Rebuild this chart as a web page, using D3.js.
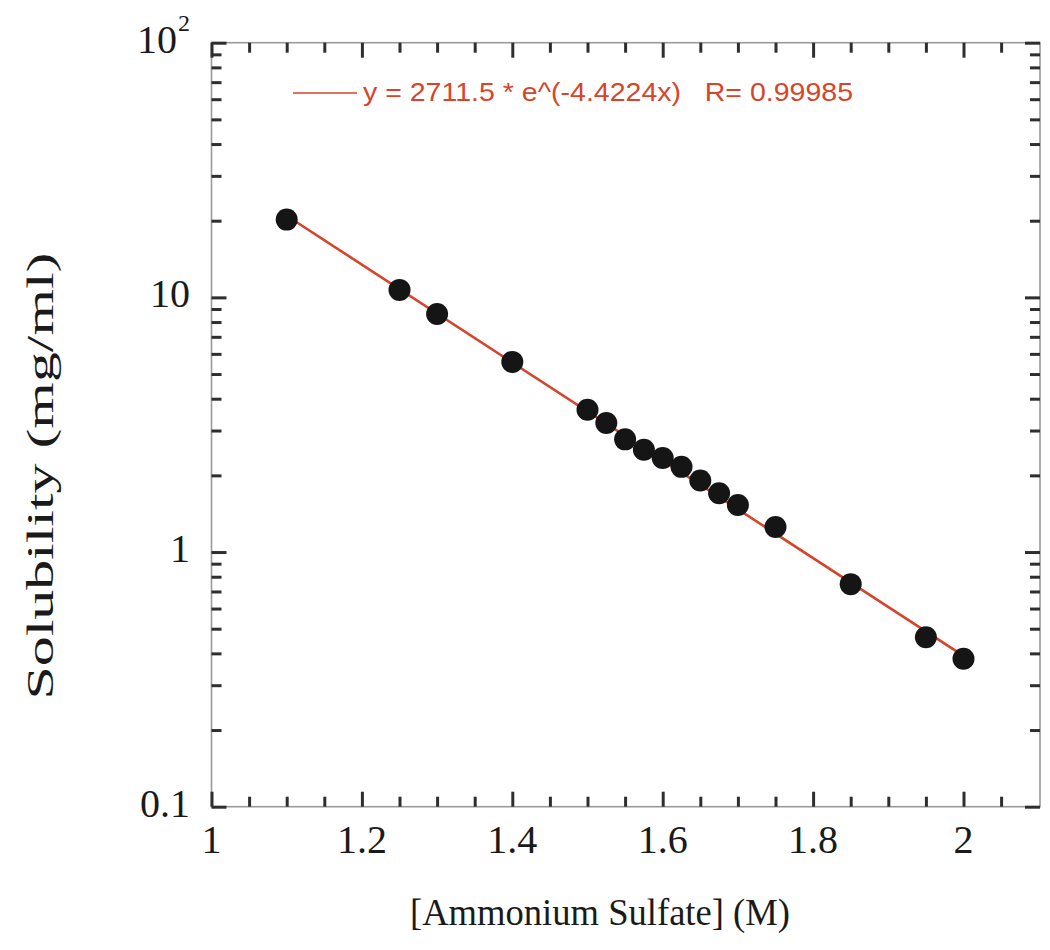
<!DOCTYPE html>
<html>
<head>
<meta charset="utf-8">
<script src="https://cdn.jsdelivr.net/npm/d3@7/dist/d3.min.js"></script>
<style>
  html, body { margin: 0; padding: 0; background: #fff; }
  svg { display: block; }
</style>
</head>
<body>
<svg id="chart" width="1050" height="950"></svg>
<script>
// ---- data ----
const concentration = [1.10, 1.25, 1.30, 1.40, 1.50, 1.525, 1.55, 1.575, 1.60, 1.625, 1.65, 1.675, 1.70, 1.75, 1.85, 1.95, 2.00];
const solubility    = [20.2, 10.7, 8.6, 5.58, 3.62, 3.21, 2.77, 2.52, 2.34, 2.16, 1.91, 1.70, 1.53, 1.255, 0.748, 0.463, 0.381];
const fitA = 2711.5;
const fitB = -4.4224;
const fitLabel = "y = 2711.5 * e^(-4.4224x)   R= 0.99985";
const xMajorTicks = [1, 1.2, 1.4, 1.6, 1.8, 2];
const xMinorTicks = [1.05, 1.1, 1.15, 1.25, 1.3, 1.35, 1.45, 1.5, 1.55, 1.65, 1.7, 1.75, 1.85, 1.9, 1.95, 2.05];
const yMajorTicks = [0.1, 1, 10, 100];
const yMinorTicks = [0.2,0.3,0.4,0.5,0.6,0.7,0.8,0.9, 2,3,4,5,6,7,8,9, 20,30,40,50,60,70,80,90];
const xTitle = "[Ammonium Sulfate] (M)";
const yTitle = "Solubility (mg/ml)";

// ---- layout ----
const L = 211.5, R = 1040, T = 42.7, B = 806.7;
const svg = d3.select("#chart");
const x = d3.scaleLinear().domain([1, 2.1]).range([L, L + (963.5 - 211.5) * 1.1]);
const y = d3.scaleLog().domain([0.1, 100]).range([B, T]);

const axisColor = "#9a9a9a", tickColor = "#2e2e2e";

function styleAxis(g) {
  g.select(".domain").remove();
  g.selectAll(".tick line").attr("stroke", tickColor).attr("stroke-width", 3);
  g.selectAll(".tick text").remove();
}
// frame
svg.append("rect").attr("x", L).attr("y", T).attr("width", R - L).attr("height", B - T)
  .attr("fill", "none").attr("stroke", axisColor).attr("stroke-width", 1.6);

// bottom ticks (inward)
svg.append("g").attr("transform", `translate(0,${B})`)
  .call(d3.axisBottom(x).tickValues(xMajorTicks).tickSizeInner(-15).tickSizeOuter(0)).call(styleAxis);
svg.append("g").attr("transform", `translate(0,${B})`)
  .call(d3.axisBottom(x).tickValues(xMinorTicks).tickSizeInner(-10).tickSizeOuter(0)).call(styleAxis);
// top ticks
svg.append("g").attr("transform", `translate(0,${T})`)
  .call(d3.axisTop(x).tickValues(xMajorTicks).tickSizeInner(-15).tickSizeOuter(0)).call(styleAxis);
svg.append("g").attr("transform", `translate(0,${T})`)
  .call(d3.axisTop(x).tickValues(xMinorTicks).tickSizeInner(-10).tickSizeOuter(0)).call(styleAxis);
// left ticks
svg.append("g").attr("transform", `translate(${L},0)`)
  .call(d3.axisLeft(y).tickValues(yMajorTicks).tickSizeInner(-15).tickSizeOuter(0)).call(styleAxis);
svg.append("g").attr("transform", `translate(${L},0)`)
  .call(d3.axisLeft(y).tickValues(yMinorTicks).tickSizeInner(-10).tickSizeOuter(0)).call(styleAxis);
// right ticks
svg.append("g").attr("transform", `translate(${R},0)`)
  .call(d3.axisRight(y).tickValues(yMajorTicks).tickSizeInner(-15).tickSizeOuter(0)).call(styleAxis);
svg.append("g").attr("transform", `translate(${R},0)`)
  .call(d3.axisRight(y).tickValues(yMinorTicks).tickSizeInner(-10).tickSizeOuter(0)).call(styleAxis);

// tick labels
const serif = "'Liberation Serif', 'Times New Roman', serif";
svg.append("g").selectAll("text").data(xMajorTicks).join("text")
  .attr("x", d => x(d)).attr("y", 853)
  .attr("text-anchor", "middle").attr("font-family", serif).attr("font-size", 40).attr("fill", "#1a1a1a")
  .text(d => d3.format("~g")(d));
const yl = svg.append("g");
yMajorTicks.forEach(d => {
  const t = yl.append("text").attr("x", 190).attr("y", y(d) + 10)
    .attr("text-anchor", "end").attr("font-family", serif).attr("font-size", 40).attr("fill", "#1a1a1a");
  if (d === 100) {
    t.attr("x", 177).text("10");
    yl.append("text").attr("x", 178).attr("y", y(d) - 12)
      .attr("font-family", serif).attr("font-size", 24).attr("fill", "#1a1a1a").text("2");
  } else {
    t.text(d3.format("~g")(d));
  }
});

// axis titles
svg.append("text").attr("x", 600).attr("y", 925).attr("text-anchor", "middle")
  .attr("font-family", serif).attr("font-size", 38).attr("fill", "#1a1a1a")
  .attr("textLength", 380).attr("lengthAdjust", "spacingAndGlyphs").text(xTitle);
svg.append("text").attr("transform", "translate(53,476) rotate(-90)").attr("text-anchor", "middle")
  .attr("font-family", serif).attr("font-size", 37).attr("fill", "#1a1a1a")
  .attr("textLength", 447).attr("lengthAdjust", "spacingAndGlyphs").text(yTitle);

// fit line
const fitColor = "#d6452a";
const xs = [d3.min(concentration), d3.max(concentration)];
svg.append("path")
  .datum(xs)
  .attr("d", d3.line().x(d => x(d)).y(d => y(fitA * Math.exp(fitB * d))))
  .attr("fill", "none").attr("stroke", fitColor).attr("stroke-width", 2.6);

// points
svg.append("g").selectAll("circle").data(concentration).join("circle")
  .attr("cx", d => x(d)).attr("cy", (d, i) => y(solubility[i])).attr("r", 11)
  .attr("fill", "#151515");

// legend
svg.append("line").attr("x1", 293).attr("x2", 357).attr("y1", 93).attr("y2", 93)
  .attr("stroke", fitColor).attr("stroke-width", 1.4);
svg.append("text").attr("x", 363).attr("y", 101)
  .attr("xml:space", "preserve").style("white-space", "pre")
  .attr("font-family", "'Liberation Sans', Arial, sans-serif").attr("font-size", 25).attr("fill", fitColor)
  .attr("textLength", 490).attr("lengthAdjust", "spacingAndGlyphs").text(fitLabel);
</script>
</body>
</html>
